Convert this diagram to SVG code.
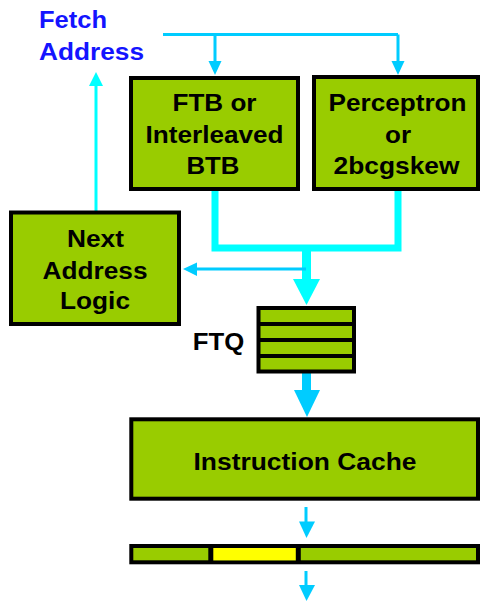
<svg xmlns="http://www.w3.org/2000/svg" width="480" height="601" viewBox="0 0 480 601">
  <style>
    .box { fill: #99cc00; stroke: #000; stroke-width: 4; }
    .lbl { font-family: "Liberation Sans", Arial, sans-serif; font-weight: bold; font-size: 23px; fill: #000; text-anchor: middle; }
    .blue { fill: #1414ff; text-anchor: start; }
    .thin { fill: none; stroke: #00ccff; stroke-width: 3; }
    .thinc { fill: none; stroke: #00ffff; stroke-width: 3; }
    .thick { fill: none; stroke: #00ffff; stroke-width: 7; stroke-linejoin: miter; }
    .headb { fill: #00ccff; }
    .headc { fill: #00ffff; }
  </style>
  <rect width="480" height="601" fill="#fff"/>

  <!-- fetch address label -->
  <g id="fetch-address">
    <text class="lbl blue" x="39" y="28" textLength="68" lengthAdjust="spacingAndGlyphs">Fetch</text>
    <text class="lbl blue" x="39" y="60" textLength="105" lengthAdjust="spacingAndGlyphs">Address</text>
  </g>

  <!-- connectors -->
  <g id="connectors">
    <!-- fetch address fan-out to both predictors -->
    <path class="thin" d="M163,34.5 H398 M215,34.5 V62 M398,34.5 V62"/>
    <polygon class="headb" points="208.5,61 221.5,61 215,75"/>
    <polygon class="headb" points="391.5,61 404.5,61 398,75"/>
    <!-- next address logic back to fetch address -->
    <path class="thinc" d="M96,211 V85"/>
    <polygon class="headc" points="89,86 103,86 96,72"/>
    <!-- predictor outputs merging -->
    <path class="thick" d="M215,191 V248 H398 V191"/>
    <path d="M306.5,248 V281" stroke="#00ffff" stroke-width="9" fill="none"/>
    <polygon class="headc" points="293,279 320,279 306.5,305"/>
    <!-- branch to next address logic -->
    <path class="thin" d="M306,269 H195"/>
    <polygon class="headb" points="197,262.5 197,276 183,269"/>
    <!-- FTQ to instruction cache -->
    <path d="M306.5,373 V392" stroke="#00ccff" stroke-width="9" fill="none"/>
    <polygon class="headb" points="294,390 320,390 307,417"/>
    <!-- instruction cache to fetch block -->
    <path class="thin" d="M306,507 V523"/>
    <polygon class="headb" points="299,521.5 315,521.5 306.5,538"/>
    <!-- fetch block output -->
    <path class="thin" d="M306,571 V586"/>
    <polygon class="headb" points="299,585 315,585 306.5,601"/>
  </g>

  <g id="ftb">
    <rect class="box" x="131" y="78" width="167" height="111"/>
    <text class="lbl" x="214.5" y="111" textLength="84" lengthAdjust="spacingAndGlyphs">FTB or</text>
    <text class="lbl" x="214.5" y="143" textLength="138" lengthAdjust="spacingAndGlyphs">Interleaved</text>
    <text class="lbl" x="213" y="174" textLength="53" lengthAdjust="spacingAndGlyphs">BTB</text>
  </g>

  <g id="perceptron">
    <rect class="box" x="314" y="77" width="164" height="112"/>
    <text class="lbl" x="397.5" y="111" textLength="138" lengthAdjust="spacingAndGlyphs">Perceptron</text>
    <text class="lbl" x="398" y="143" textLength="26" lengthAdjust="spacingAndGlyphs">or</text>
    <text class="lbl" x="396.5" y="174" textLength="126" lengthAdjust="spacingAndGlyphs">2bcgskew</text>
  </g>

  <g id="next-address-logic">
    <rect class="box" x="11" y="212.5" width="168" height="111.5"/>
    <text class="lbl" x="95.5" y="246.5" textLength="57" lengthAdjust="spacingAndGlyphs">Next</text>
    <text class="lbl" x="95" y="278.5" textLength="105" lengthAdjust="spacingAndGlyphs">Address</text>
    <text class="lbl" x="95" y="309" textLength="70" lengthAdjust="spacingAndGlyphs">Logic</text>
  </g>

  <g id="ftq">
    <rect class="box" x="258.5" y="308" width="95.5" height="63.5"/>
    <path d="M258.5,324 H354 M258.5,340 H354 M258.5,356 H354" stroke="#000" stroke-width="4"/>
    <text class="lbl" x="218.5" y="349.5" textLength="51.5" lengthAdjust="spacingAndGlyphs">FTQ</text>
  </g>

  <g id="instruction-cache">
    <rect class="box" x="131.3" y="419.3" width="346.7" height="79.4"/>
    <text class="lbl" x="305" y="469.5" textLength="223" lengthAdjust="spacingAndGlyphs">Instruction Cache</text>
  </g>

  <g id="fetch-block">
    <rect class="box" x="131.3" y="546" width="346.7" height="16.3"/>
    <rect x="213" y="548" width="83" height="12.3" fill="#ffff00"/>
    <path d="M210.8,546 V562.3 M298.3,546 V562.3" stroke="#000" stroke-width="5"/>
  </g>
</svg>
